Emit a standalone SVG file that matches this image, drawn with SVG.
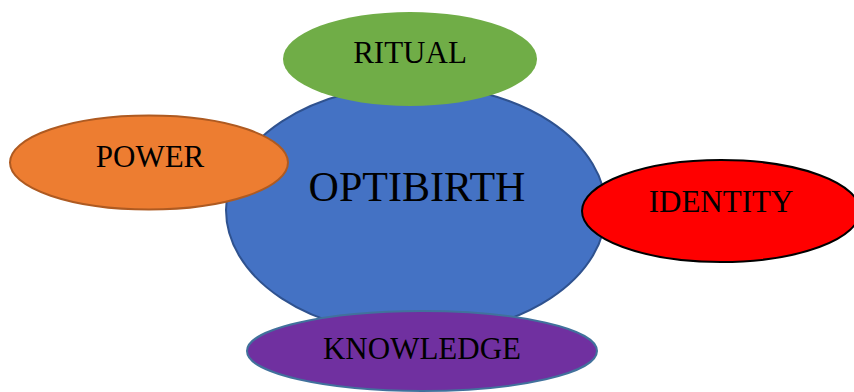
<svg xmlns="http://www.w3.org/2000/svg" width="854" height="392" viewBox="0 0 854 392">
<style>
text{font-family:"Liberation Serif","Times New Roman",serif;fill:#000;text-anchor:middle}
.lbl{font-size:31px}
.big{font-size:42px}
</style>
<rect width="854" height="392" fill="#fff"/>
<g id="connectors"/>
<g id="optibirth">
<ellipse cx="416" cy="210" rx="190" ry="125" fill="#4472C4" stroke="#2F528F" stroke-width="2"/>
<text class="big" x="417" y="201">OPTIBIRTH</text>
</g>
<g id="ritual">
<ellipse cx="410" cy="59" rx="127" ry="47" fill="#70AD47"/>
<text class="lbl" x="410" y="63">RITUAL</text>
</g>
<g id="power">
<ellipse cx="149" cy="162.5" rx="139" ry="47" fill="#ED7D31" stroke="#AE5A21" stroke-width="2"/>
<text class="lbl" x="150" y="167">POWER</text>
</g>
<g id="identity">
<ellipse cx="721" cy="211" rx="139" ry="51" fill="#FF0000" stroke="#000" stroke-width="2"/>
<text class="lbl" x="721" y="212">IDENTITY</text>
</g>
<g id="knowledge">
<ellipse cx="422" cy="351" rx="175" ry="40" fill="#7030A0" stroke="#41719C" stroke-width="2"/>
<text class="lbl" x="422" y="359">KNOWLEDGE</text>
</g>
</svg>
